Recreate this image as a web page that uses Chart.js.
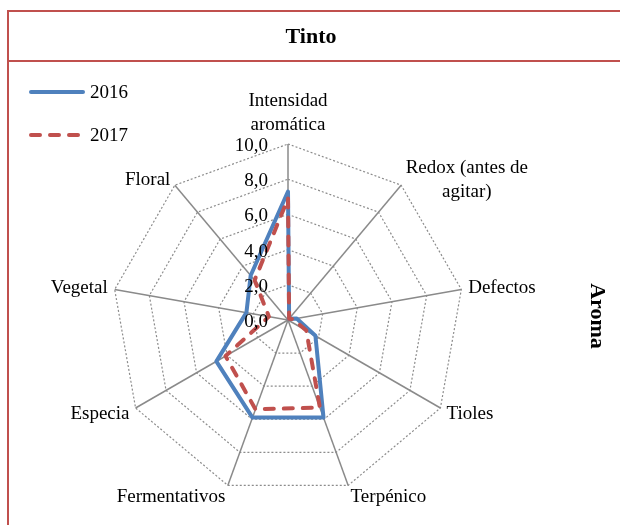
<!DOCTYPE html>
<html><head><meta charset="utf-8">
<script src="https://cdn.jsdelivr.net/npm/chart.js@4/dist/chart.umd.min.js"></script>
<style>html,body{margin:0;padding:0;background:#fff;} #wrap{position:relative;width:620px;height:525px;}</style>
</head><body><div id="wrap"><canvas id="c" width="620" height="525"></canvas></div>
<script>
const categories = [['Intensidad','aromática'], ['Redox (antes de','agitar)'], 'Defectos', 'Tioles', 'Terpénico', 'Fermentativos', 'Especia', 'Vegetal', 'Floral'];
const series2016 = [7.3, 0.1, 0.5, 1.8, 5.9, 5.9, 4.7, 2.4, 3.3];
const series2017 = [6.9, 0.1, 0.3, 1.2, 5.3, 5.4, 4.1, 1.1, 2.95];
const seriesNames = ['2016', '2017'];
const tickValues = [0, 2, 4, 6, 8, 10];
const titleText = 'Tinto';
const sideTitle = 'Aroma';

const FONT = "'Liberation Serif','Times New Roman',serif";

const decor = {
  id: 'decor',
  beforeDraw(chart) {
    const ctx = chart.ctx;
    ctx.save(); ctx.fillStyle = '#fff'; ctx.fillRect(0, 0, chart.width, chart.height); ctx.restore();
  },
  afterDraw(chart) {
    const ctx = chart.ctx, r = chart.scales.r;
    ctx.save();
    // frame
    ctx.strokeStyle = '#C0504D'; ctx.lineWidth = 2;
    ctx.beginPath();
    ctx.moveTo(8, 525); ctx.lineTo(8, 11); ctx.lineTo(620, 11);
    ctx.moveTo(8, 61); ctx.lineTo(620, 61);
    ctx.stroke();
    // title
    ctx.fillStyle = '#000';
    ctx.font = `bold 22px ${FONT}`; ctx.textAlign = 'center'; ctx.textBaseline = 'middle';
    ctx.fillText(titleText, 311, 37);
    ctx.save(); ctx.translate(597, 316); ctx.rotate(Math.PI / 2); ctx.fillText(sideTitle, 0, 0); ctx.restore();
    // tick labels
    ctx.font = `19px ${FONT}`; ctx.textAlign = 'right';
    tickValues.forEach(v => {
      const d = r.getDistanceFromCenterForValue(v);
      ctx.fillText(v.toFixed(1).replace('.', ','), r.xCenter - 20, r.yCenter - d + 2);
    });
    // point labels
    const lh = 24;
    chart.data.labels.forEach((lbl, i) => {
      const lines = Array.isArray(lbl) ? lbl : [lbl];
      const h = lines.length * lh;
      const a = r.getIndexAngle(i);
      const s = Math.sin(a), c = Math.cos(a);
      const pt = r.getPointPosition(i, r.drawingArea + 7);
      const w = Math.max(...lines.map(t => ctx.measureText(t).width));
      let cx, cy;
      if (Math.abs(s) < 0.05) {
        cx = pt.x;
        cy = c > 0 ? pt.y - h / 2 : pt.y + h / 2;
      } else {
        cx = s > 0 ? pt.x + w / 2 : pt.x - w / 2;
        cy = pt.y + (c < 0 ? -c * 5 : 0);
      }
      ctx.textAlign = 'center';
      lines.forEach((t, k) => ctx.fillText(t, cx, cy - h / 2 + lh / 2 + k * lh));
    });
    // legend
    chart.data.datasets.forEach((ds, k) => {
      const y = 92 + k * 43;
      ctx.strokeStyle = ds.borderColor; ctx.lineWidth = ds.borderWidth; ctx.lineCap = 'round';
      ctx.setLineDash(ds.borderDash || []);
      ctx.beginPath(); ctx.moveTo(31, y); ctx.lineTo(ds.borderDash ? 78 : 83, y); ctx.stroke();
      ctx.setLineDash([]);
      ctx.fillStyle = '#000'; ctx.textAlign = 'left';
      ctx.fillText(ds.label, 90, y + 1);
    });
    ctx.restore();
  }
};

new Chart(document.getElementById('c'), {
  type: 'radar',
  data: {
    labels: categories,
    datasets: [
      { label: seriesNames[0], data: series2016, borderColor: '#4F81BD', backgroundColor: 'transparent', borderWidth: 4, pointRadius: 0, fill: false, order: 1, borderJoinStyle: 'round' },
      { label: seriesNames[1], data: series2017, borderColor: '#C0504D', backgroundColor: 'transparent', borderWidth: 4, borderDash: [9, 10], borderCapStyle: 'round', borderJoinStyle: 'round', pointRadius: 0, fill: false, order: 0 }
    ]
  },
  options: {
    responsive: false, animation: false, devicePixelRatio: 1,
    layout: { padding: { left: 112, right: 156, top: 144, bottom: 29 } },
    plugins: { legend: { display: false }, title: { display: false }, tooltip: { enabled: false } },
    scales: {
      r: {
        min: 0, max: 10,
        ticks: { stepSize: 2, display: false },
        pointLabels: { display: false },
        grid: { color: '#8c8c8c', lineWidth: 1.2 },
        border: { dash: [2, 2] },
        angleLines: { color: '#8a8a8a', lineWidth: 1.5 }
      }
    }
  },
  plugins: [decor]
});
</script>
</body></html>
